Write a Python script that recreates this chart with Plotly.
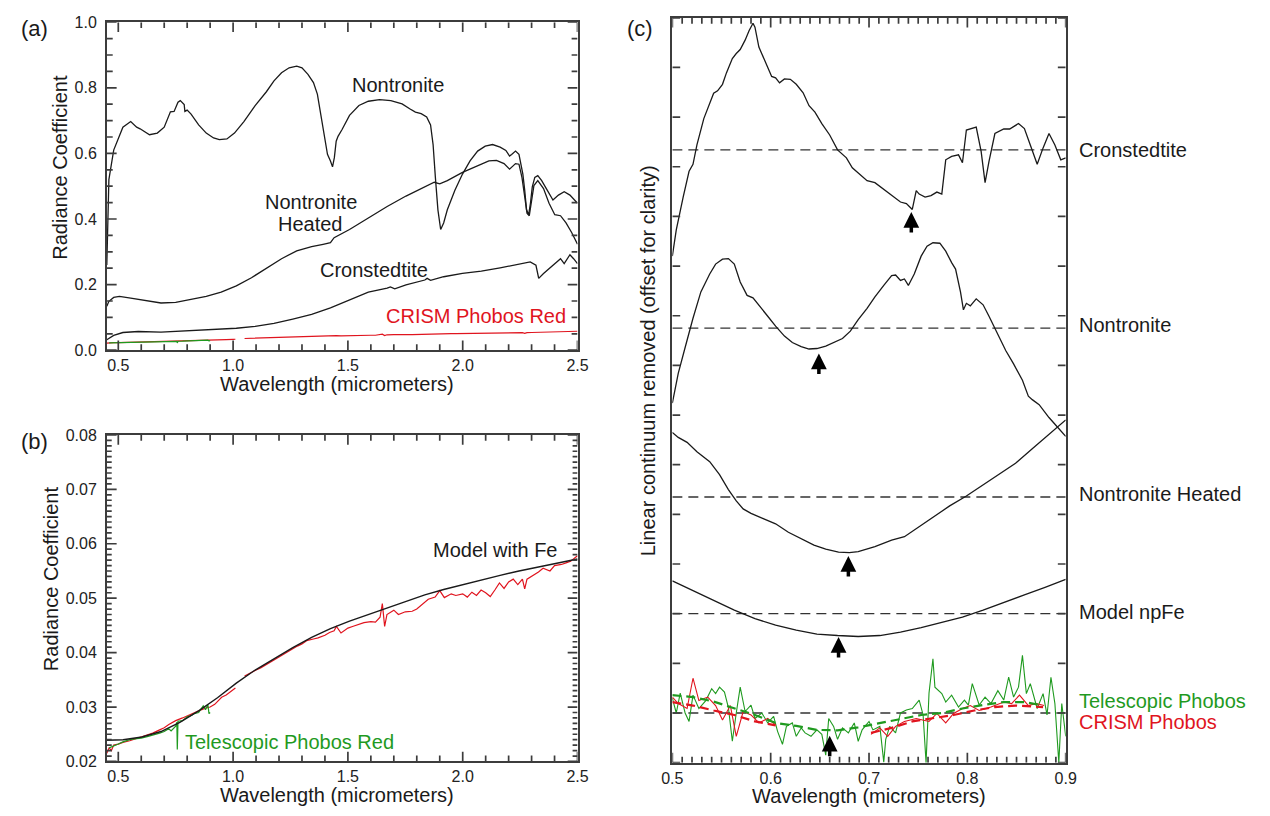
import plotly.graph_objects as go

W, H = 1270, 816
FONT = "Liberation Sans, Arial, sans-serif"
BLACK = "#1a1a1a"
RED = "#e0141e"
GREEN = "#1f9a1f"
FRAME = "#3c3c3c"

# ---------------- Panel (a) data ----------------
nont_x = [0.45, 0.459, 0.48, 0.52, 0.554, 0.58, 0.595, 0.636, 0.67, 0.70, 0.727, 0.743, 0.76, 0.77,
          0.787, 0.79, 0.80, 0.817, 0.85, 0.883, 0.915, 0.94, 0.973, 1.006, 1.047, 1.096, 1.145,
          1.178, 1.211, 1.244, 1.277, 1.30, 1.326, 1.35, 1.367, 1.383, 1.40, 1.411, 1.424, 1.433,
          1.441, 1.449, 1.457, 1.474, 1.507, 1.548, 1.589, 1.638, 1.687, 1.736, 1.769, 1.794,
          1.819, 1.843, 1.86, 1.871, 1.881, 1.892, 1.904, 1.917, 1.933, 1.966, 1.999, 2.032,
          2.065, 2.098, 2.13, 2.163, 2.188, 2.204, 2.213, 2.23, 2.245, 2.262, 2.27, 2.278, 2.287,
          2.295, 2.303, 2.314, 2.327, 2.344, 2.368, 2.393, 2.417, 2.442, 2.467, 2.491, 2.5]
nont_y = [0.26, 0.52, 0.61, 0.68, 0.697, 0.68, 0.675, 0.657, 0.662, 0.68, 0.727, 0.728, 0.756, 0.761,
          0.749, 0.728, 0.732, 0.72, 0.687, 0.662, 0.647, 0.642, 0.644, 0.662, 0.697, 0.746, 0.788,
          0.821, 0.846, 0.861, 0.866, 0.861, 0.841, 0.816, 0.781, 0.716, 0.647, 0.597, 0.577, 0.559,
          0.587, 0.637, 0.652, 0.672, 0.716, 0.746, 0.759, 0.764, 0.761, 0.751, 0.736, 0.726,
          0.721, 0.711, 0.687, 0.627, 0.527, 0.428, 0.368, 0.388, 0.428, 0.488, 0.537, 0.577,
          0.607, 0.622, 0.627, 0.619, 0.609, 0.592, 0.597, 0.607, 0.597, 0.537, 0.488, 0.428, 0.413,
          0.448, 0.498, 0.527, 0.532, 0.517, 0.488, 0.458, 0.473, 0.483, 0.473, 0.453, 0.448]

heat_x = [0.45, 0.459, 0.48, 0.505, 0.554, 0.62, 0.686, 0.75, 0.817, 0.883, 0.948, 1.014, 1.08,
          1.145, 1.211, 1.277, 1.342, 1.392, 1.424, 1.44, 1.507, 1.589, 1.671, 1.753, 1.835, 1.876,
          1.90, 1.933, 1.999, 2.065, 2.114, 2.147, 2.18, 2.204, 2.23, 2.245, 2.258, 2.27, 2.28,
          2.29, 2.30, 2.31, 2.327, 2.352, 2.376, 2.401, 2.426, 2.45, 2.475, 2.5]
heat_y = [0.134, 0.149, 0.161, 0.164, 0.159, 0.151, 0.144, 0.146, 0.154, 0.164, 0.177, 0.196, 0.221,
          0.249, 0.279, 0.303, 0.316, 0.323, 0.328, 0.343, 0.368, 0.403, 0.438, 0.47, 0.498, 0.512,
          0.507, 0.517, 0.542, 0.562, 0.577, 0.579, 0.569, 0.552, 0.569, 0.567, 0.527, 0.468, 0.418,
          0.41, 0.458, 0.502, 0.517, 0.493, 0.448, 0.413, 0.41, 0.388, 0.358, 0.323]

cron_x = [0.45, 0.48, 0.52, 0.587, 0.686, 0.768, 0.85, 0.932, 1.014, 1.096, 1.178, 1.26, 1.342,
          1.424, 1.507, 1.589, 1.671, 1.685, 1.704, 1.753, 1.835, 1.845, 1.86, 1.917, 1.999, 2.081,
          2.163, 2.245, 2.294, 2.319, 2.331, 2.352, 2.376, 2.393, 2.409, 2.426, 2.442, 2.467,
          2.483, 2.5]
cron_y = [0.032, 0.045, 0.054, 0.057, 0.055, 0.058, 0.062, 0.064, 0.067, 0.073, 0.082, 0.095, 0.109,
          0.129, 0.154, 0.177, 0.189, 0.193, 0.187, 0.199, 0.214, 0.219, 0.213, 0.224, 0.234, 0.241,
          0.251, 0.261, 0.269, 0.259, 0.219, 0.234, 0.249, 0.259, 0.269, 0.279, 0.264, 0.291,
          0.279, 0.264]

# ---------------- Phobos spectra (panels a and b) ----------------
crism_x = [0.45, 0.46, 0.47, 0.48, 0.50, 0.52, 0.55, 0.58, 0.60, 0.63, 0.65, 0.68, 0.70, 0.72, 0.75,
           0.78, 0.80, 0.83, 0.85, 0.88, 0.90, 0.92, 0.95, 0.97, 1.00, 1.01, 1.03, 1.05, 1.07, 1.10,
           1.12, 1.15, 1.18, 1.20, 1.22, 1.25, 1.28, 1.30, 1.32, 1.35, 1.37, 1.40, 1.42, 1.44, 1.45,
           1.47, 1.50, 1.52, 1.55, 1.57, 1.60, 1.62, 1.64, 1.65, 1.66, 1.67, 1.70, 1.72, 1.75, 1.78,
           1.80, 1.83, 1.85, 1.88, 1.90, 1.92, 1.95, 1.97, 2.00, 2.02, 2.04, 2.06, 2.08, 2.10, 2.12,
           2.14, 2.16, 2.18, 2.20, 2.22, 2.24, 2.26, 2.27, 2.28, 2.30, 2.33, 2.35, 2.38, 2.40, 2.43,
           2.45, 2.47, 2.50]
crism_y = [0.0215, 0.0225, 0.022, 0.023, 0.0232, 0.0235, 0.0238, 0.0242, 0.0245, 0.025, 0.0252,
           0.0258, 0.0262, 0.0268, 0.0275, 0.028, 0.0284, 0.029, 0.0293, 0.0298, 0.030, 0.0305,
           0.0318, 0.0322, 0.0332, 0.0335, None, 0.0357, 0.0362, 0.0368, 0.0372, 0.0380, 0.0388,
           0.0392, 0.0397, 0.0405, 0.0412, 0.0416, 0.0422, 0.0425, 0.0427, 0.0432, 0.0437, 0.0440,
           0.0448, 0.0436, 0.0445, 0.0448, 0.0452, 0.0455, 0.0457, 0.0456, 0.0465, 0.0490, 0.0448,
           0.0470, 0.0478, 0.0470, 0.0475, 0.0476, 0.0480, 0.0490, 0.0498, 0.0502, 0.0514, 0.0501,
           0.0508, 0.0505, 0.0508, 0.0502, 0.0511, 0.0505, 0.0515, 0.0510, 0.0503, 0.0515, 0.0528,
           0.0518, 0.0530, 0.0535, 0.0525, 0.0535, 0.0517, 0.0535, 0.0540, 0.0548, 0.0555, 0.0550,
           0.0560, 0.0562, 0.0565, 0.0568, 0.0578]

tele_x = [0.46, 0.48, 0.50, 0.52, 0.55, 0.58, 0.60, 0.63, 0.65, 0.68, 0.70, 0.72, 0.73, 0.75, 0.755,
          0.757, 0.76, 0.78, 0.80, 0.82, 0.83, 0.85, 0.86, 0.87, 0.88, 0.89, 0.895, 0.90]
tele_y = [0.0225, 0.0228, 0.0232, 0.0236, 0.024, 0.0242, 0.0243, 0.0246, 0.0248, 0.0252, 0.0255,
          0.026, 0.0256, 0.0265, 0.0272, 0.0222, 0.0274, 0.0275, 0.0282, 0.0285, 0.0288, 0.029,
          0.0296, 0.0302, 0.0295, 0.0305, 0.0288, 0.029]

model_x = [0.45, 0.521, 0.603, 0.686, 0.768, 0.85, 0.932, 1.014, 1.096, 1.178, 1.26, 1.342, 1.424,
           1.507, 1.589, 1.671, 1.753, 1.835, 1.917, 1.999, 2.081, 2.163, 2.245, 2.327, 2.409, 2.5]
model_y = [0.0239, 0.024, 0.0245, 0.0255, 0.0272, 0.0293, 0.0317, 0.0344, 0.0368, 0.0389, 0.0409,
           0.0428, 0.0444, 0.0458, 0.047, 0.0482, 0.0494, 0.0506, 0.0516, 0.0525, 0.0534, 0.0542,
           0.055, 0.0557, 0.0565, 0.0572]

# ---------------- Panel (c) data (offset units, 1 unit per tick) ----------------
c_baselines = [12.34, 8.75, 5.35, 3.0, 1.0]

ccron_x = [0.5, 0.504, 0.511, 0.517, 0.521, 0.525, 0.532, 0.538, 0.542, 0.546, 0.551, 0.555, 0.561,
           0.565, 0.569, 0.574, 0.578, 0.582, 0.584, 0.588, 0.595, 0.601, 0.605, 0.609, 0.614,
           0.62, 0.626, 0.633, 0.639, 0.645, 0.652, 0.66, 0.668, 0.677, 0.683, 0.689, 0.698, 0.706,
           0.715, 0.723, 0.732, 0.738, 0.742, 0.744, 0.748, 0.751, 0.757, 0.763, 0.769, 0.774,
           0.778, 0.784, 0.791, 0.795, 0.799, 0.805, 0.809, 0.814, 0.818, 0.822, 0.828, 0.837,
           0.843, 0.852, 0.858, 0.864, 0.871, 0.877, 0.883, 0.889, 0.895, 0.9]
ccron_y = [10.2, 10.73, 11.39, 11.91, 12.05, 12.44, 12.97, 13.26, 13.48, 13.53, 13.66, 13.89, 14.18,
           14.28, 14.36, 14.55, 14.74, 14.89, 14.81, 14.41, 14.09, 13.82, 13.79, 13.69, 13.77,
           13.76, 13.66, 13.49, 13.23, 13.1, 12.87, 12.64, 12.34, 12.18, 11.98, 11.88, 11.72, 11.68,
           11.55, 11.42, 11.29, 11.26, 11.18, 11.14, 11.52, 11.45, 11.39, 11.42, 11.49, 11.45,
           12.14, 12.21, 12.24, 12.08, 12.74, 12.77, 12.8, 12.31, 11.68, 12.11, 12.67, 12.76,
           12.76, 12.87, 12.77, 12.44, 12.05, 12.38, 12.67, 12.44, 12.14, 12.18]

cnont_x = [0.5, 0.506, 0.513, 0.521, 0.529, 0.538, 0.544, 0.551, 0.557, 0.563, 0.569, 0.576, 0.582,
           0.588, 0.597, 0.605, 0.614, 0.622, 0.631, 0.639, 0.647, 0.656, 0.664, 0.673, 0.681,
           0.689, 0.698, 0.706, 0.715, 0.723, 0.727, 0.732, 0.736, 0.74, 0.746, 0.753, 0.759,
           0.765, 0.772, 0.778, 0.784, 0.788, 0.793, 0.796, 0.799, 0.803, 0.809, 0.816, 0.822,
           0.831, 0.839, 0.847, 0.856, 0.862, 0.866, 0.873, 0.883, 0.892, 0.9]
cnont_y = [7.24, 7.84, 8.36, 8.95, 9.48, 9.84, 10.04, 10.14, 10.15, 10.04, 9.68, 9.41, 9.36, 9.22,
           8.99, 8.79, 8.59, 8.46, 8.38, 8.33, 8.34, 8.39, 8.46, 8.54, 8.69, 8.92, 9.15, 9.38, 9.61,
           9.81, 9.82, 9.71, 9.74, 9.61, 9.84, 10.2, 10.4, 10.47, 10.46, 10.3, 10.07, 9.94, 9.48,
           9.12, 9.25, 9.2, 9.34, 9.22, 8.99, 8.62, 8.3, 8.03, 7.7, 7.38, 7.31, 7.21, 6.95, 6.75,
           6.57]

cheat_x = [0.5, 0.506, 0.515, 0.525, 0.538, 0.548, 0.557, 0.565, 0.572, 0.58, 0.593, 0.605, 0.618,
           0.631, 0.644, 0.656, 0.669, 0.68, 0.689, 0.706, 0.723, 0.736, 0.748, 0.765, 0.782, 0.799,
           0.816, 0.832, 0.849, 0.866, 0.883, 0.9]
cheat_y = [6.65, 6.55, 6.45, 6.26, 6.06, 5.8, 5.5, 5.27, 5.11, 5.02, 4.91, 4.81, 4.64, 4.51, 4.38,
           4.3, 4.24, 4.23, 4.25, 4.35, 4.48, 4.55, 4.71, 4.94, 5.17, 5.37, 5.6, 5.81, 6.03, 6.32,
           6.62, 6.9]

cmodel_x = [0.5, 0.521, 0.542, 0.563, 0.584, 0.605, 0.626, 0.647, 0.668, 0.689, 0.711, 0.732,
            0.753, 0.774, 0.795, 0.816, 0.837, 0.858, 0.879, 0.9]
cmodel_y = [3.66, 3.46, 3.26, 3.07, 2.9, 2.77, 2.67, 2.59, 2.56, 2.54, 2.56, 2.63, 2.72, 2.82, 2.93,
            3.07, 3.23, 3.38, 3.53, 3.69]

ctele_x = [0.5, 0.504, 0.508, 0.513, 0.517, 0.521, 0.527, 0.534, 0.54, 0.544, 0.548, 0.553, 0.557,
           0.561, 0.565, 0.569, 0.574, 0.58, 0.584, 0.591, 0.597, 0.603, 0.607, 0.612, 0.616,
           0.622, 0.626, 0.631, 0.635, 0.641, 0.647, 0.652, 0.656, 0.659, 0.664, 0.668, 0.673,
           0.679, 0.685, 0.689, 0.693, 0.70, 0.704, 0.711, 0.715, 0.717, 0.721, 0.727, 0.732,
           0.738, 0.744, 0.751, 0.755, 0.758, 0.761, 0.765, 0.767, 0.774, 0.778, 0.784, 0.791,
           0.797, 0.801, 0.805, 0.812, 0.818, 0.824, 0.831, 0.837, 0.842, 0.847, 0.852, 0.856,
           0.86, 0.864, 0.871, 0.877, 0.881, 0.885, 0.889, 0.893, 0.896, 0.9]
ctele_y = [1.3, 1.0, 1.4, 1.0, 0.83, 1.36, 1.09, 1.25, 1.49, 1.39, 1.52, 1.42, 1.11, 0.43, 1.0, 1.52,
           1.03, 1.16, 0.89, 1.0, 0.8, 0.93, 0.63, 0.37, 0.73, 0.8, 0.53, 0.7, 0.6, 0.53, 0.66, 0.57,
           0.15, 0.89, 0.73, 0.47, 0.7, 0.6, 0.8, 0.43, 0.66, 0.83, 0.66, 0.73, 0.01, 0.47, 0.73,
           0.6, 1.0, 1.06, 1.09, 1.26, 0.96, 0.0, 1.4, 2.09, 1.52, 1.39, 1.22, 1.36, 1.12, 1.26,
           1.16, 1.59, 1.16, 1.32, 1.19, 1.45, 1.26, 1.72, 1.32, 1.52, 2.16, 1.39, 1.59, 1.09, 1.39,
           0.96, 1.72, 1.19, 0.0, 1.19, 0.53]

ctele_s_x = [0.5, 0.521, 0.542, 0.563, 0.584, 0.605, 0.626, 0.647, 0.668, 0.689, 0.711, 0.732,
             0.753, 0.774, 0.795, 0.816, 0.837, 0.858, 0.875]
ctele_s_y = [1.36, 1.32, 1.23, 1.09, 0.96, 0.8, 0.74, 0.66, 0.65, 0.71, 0.8, 0.88, 0.96, 1.0, 1.09,
             1.16, 1.22, 1.22, 1.16]

ccrism_x = [0.5, 0.506, 0.515, 0.521, 0.527, 0.536, 0.544, 0.551, 0.559, 0.565, 0.572, 0.58, 0.588,
            0.597, 0.605, 0.65, 0.702, 0.711, 0.719, 0.727, 0.736, 0.748, 0.761, 0.769, 0.778,
            0.786, 0.795, 0.803, 0.812, 0.824, 0.837, 0.845, 0.853, 0.862, 0.87, 0.878]
ccrism_y = [1.32, 1.19, 1.09, 1.7, 1.25, 1.32, 1.15, 0.86, 1.15, 0.53, 1.03, 0.96, 0.8, 0.89, 0.76,
            None, 0.57, 0.7, 0.53, 0.73, 0.83, 0.89, 0.83, 0.99, 0.8, 0.99, 1.09, 1.15, 1.05, 1.12,
            1.22, 1.19, 1.36, 1.15, 1.19, 1.15]

ccrism_s_x = [0.5, 0.521, 0.542, 0.563, 0.584, 0.605, 0.65, 0.702, 0.723, 0.744, 0.765, 0.786,
              0.807, 0.828, 0.849, 0.877]
ccrism_s_y = [1.22, 1.15, 1.05, 0.96, 0.83, 0.75, None, 0.6, 0.7, 0.83, 0.89, 0.96, 1.05, 1.12,
              1.15, 1.12]

arrow_x = [0.743, 0.649, 0.679, 0.669, 0.66]
arrow_tip = [11.09, 8.24, 4.16, 2.53, 0.54]

c_labels = ["Cronstedtite", "Nontronite", "Nontronite Heated", "Model npFe"]

# ---------------- Figure ----------------
fig = go.Figure()


def line(x, y, xa, ya, color=BLACK, width=1.3, dash=None):
    fig.add_trace(go.Scatter(x=x, y=y, mode="lines", xaxis=xa, yaxis=ya,
                             line=dict(color=color, width=width, dash=dash),
                             connectgaps=False, showlegend=False, hoverinfo="skip"))

# panel a
line(nont_x, nont_y, "x", "y")
line(heat_x, heat_y, "x", "y")
line(cron_x, cron_y, "x", "y")
line(crism_x, crism_y, "x", "y", color=RED, width=1.2)
line(tele_x, tele_y, "x", "y", color=GREEN, width=1.2)

# panel b
line(crism_x, crism_y, "x2", "y2", color=RED, width=1.2)
line(tele_x, tele_y, "x2", "y2", color=GREEN, width=1.2)
line(model_x, model_y, "x2", "y2", width=1.4)

# panel c
for b in c_baselines:
    line([0.5, 0.9], [b, b], "x3", "y3", color="#333333", width=1.3, dash="10px,6px")
line(ccron_x, ccron_y, "x3", "y3")
line(cnont_x, cnont_y, "x3", "y3")
line(cheat_x, cheat_y, "x3", "y3")
line(cmodel_x, cmodel_y, "x3", "y3")
line(ctele_x, ctele_y, "x3", "y3", color=GREEN, width=1.1)
line(ccrism_x, ccrism_y, "x3", "y3", color=RED, width=1.1)
line(ctele_s_x, ctele_s_y, "x3", "y3", color=GREEN, width=2.2, dash="9px,5px")
line(ccrism_s_x, ccrism_s_y, "x3", "y3", color=RED, width=2.2, dash="9px,5px")

TICKFONT = dict(family=FONT, size=16, color="#222222")

# panel geometry in pixels: (left, right, top, bottom)
PA = (97.5, 576.5, 14.5, 349.5)
PB = (97.5, 576.5, 436.0, 769.5)
PC = (673.0, 1073.3, 10.0, 770.7)
RANGES = {"a": ([0.45, 2.5], [0.0, 1.0]), "b": ([0.45, 2.5], [0.02, 0.08]),
          "c": ([0.5, 0.9], [0.0, 15.0])}


def axis(box, anchor, rng, dt, horiz, fmt=None, tick0=None, labels=True, standoff=0):
    l, r, t, b = box
    dom = [l / W, r / W] if horiz else [1 - b / H, 1 - t / H]
    d = dict(domain=dom, anchor=anchor, range=rng, dtick=dt, showline=True,
             linecolor=FRAME, linewidth=1.5, mirror=True, ticks="", showgrid=False,
             zeroline=False, showticklabels=labels, tickfont=TICKFONT)
    if fmt:
        d["tickformat"] = fmt
    if tick0 is not None:
        d["tick0"] = tick0
    if standoff:
        d["ticklabelstandoff"] = standoff
    return d


fig.update_layout(
    width=W, height=H, margin=dict(l=0, r=0, t=0, b=0),
    paper_bgcolor="white", plot_bgcolor="white",
    font=dict(family=FONT, color=BLACK),
    xaxis=axis(PA, "y", RANGES["a"][0], 0.5, True, ".1f", tick0=0.5),
    yaxis=axis(PA, "x", RANGES["a"][1], 0.2, False, ".1f", standoff=5),
    xaxis2=axis(PB, "y2", RANGES["b"][0], 0.5, True, ".1f", tick0=0.5),
    yaxis2=axis(PB, "x2", RANGES["b"][1], 0.01, False, ".2f", standoff=5),
    xaxis3=axis(PC, "y3", RANGES["c"][0], 0.1, True, ".1f"),
    yaxis3=axis(PC, "x3", RANGES["c"][1], 1, False, labels=False),
)


def tickset(lo, hi, major, minor, lmaj, lmin):
    n = int(round((hi - lo) / minor))
    out = []
    for i in range(n + 1):
        v = lo + i * minor
        k = (v - lo) / major
        out.append((round(v, 6), lmaj if abs(k - round(k)) < 1e-6 else lmin))
    return out


def tick_trace(xa, ya, box, key, xvals, yvals):
    """Inward tick marks on all four sides, drawn in each panel's own data units."""
    l, r, t, b = box
    (x0, x1), (y0, y1) = RANGES[key]
    ux = (x1 - x0) / (r - l)   # data units per pixel
    uy = (y1 - y0) / (b - t)
    xs, ys = [], []
    for v, ln in xvals:
        xs += [v, v, None, v, v, None]
        ys += [y0, y0 + ln * uy, None, y1, y1 - ln * uy, None]
    for v, ln in yvals:
        xs += [x0, x0 + ln * ux, None, x1, x1 - ln * ux, None]
        ys += [v, v, None, v, v, None]
    fig.add_trace(go.Scatter(x=xs, y=ys, mode="lines", xaxis=xa, yaxis=ya,
                             line=dict(color=FRAME, width=1.7, simplify=False),
                             connectgaps=False, showlegend=False, hoverinfo="skip"))


tick_trace("x", "y", PA, "a", tickset(0.5, 2.5, 0.5, 0.1, 10, 6),
           tickset(0.0, 1.0, 0.2, 0.05, 10, 6))
tick_trace("x2", "y2", PB, "b", tickset(0.5, 2.5, 0.5, 0.1, 10, 6),
           tickset(0.02, 0.08, 0.01, 0.001, 10, 5))
tick_trace("x3", "y3", PC, "c", tickset(0.5, 0.9, 0.1, 0.01, 10, 6),
           tickset(0.0, 15.0, 1.0, 1.0, 8, 8))


def txt(x, y, s, size=20, color=BLACK, xanchor="center", angle=0):
    fig.add_annotation(x=x / W, y=1 - y / H, xref="paper", yref="paper", text=s,
                       showarrow=False, xanchor=xanchor, yanchor="middle", textangle=angle,
                       font=dict(family=FONT, size=size, color=color))

# panel letters
txt(24, 21, "(a)", 22)
txt(24, 443, "(b)", 22)
txt(640, 21, "(c)", 22)

# axis titles
txt(49, 163, "Radiance Coefficient", angle=-90)
txt(41, 583, "Radiance Coefficient", angle=-90)
txt(332, 384, "Wavelength (micrometers)")
txt(332, 804, "Wavelength (micrometers)")
txt(873, 805, "Wavelength (micrometers)")
txt(648, 360, "Linear continuum removed (offset for clarity)", angle=-90)

# panel a labels
txt(394, 79, "Nontronite")
txt(305, 198, "Nontronite")
txt(305, 221, "Heated")
txt(369, 268, "Cronstedtite")
txt(473, 315, "CRISM Phobos Red", color=RED)

# panel b labels
txt(493, 554, "Model with Fe")
txt(283, 750, "Telescopic Phobos Red", color=GREEN)

# panel c labels
for lab, yy in zip(c_labels, [145, 324, 496, 617]):
    txt(1085, yy, lab, xanchor="left")
txt(1085, 708, "Telescopic Phobos", color=GREEN, xanchor="left")
txt(1085, 729, "CRISM Phobos", color=RED, xanchor="left")

# arrows
for ax_, ay_ in zip(arrow_x, arrow_tip):
    fig.add_annotation(x=ax_, y=ay_, xref="x3", yref="y3", text="", showarrow=True,
                       ax=0, ay=22, arrowhead=2, arrowsize=0.9, arrowwidth=3.5,
                       arrowcolor="#000000", standoff=0)

fig.write_html("out.html", config={"displayModeBar": False},
               post_script="document.body.style.margin='0px';")
